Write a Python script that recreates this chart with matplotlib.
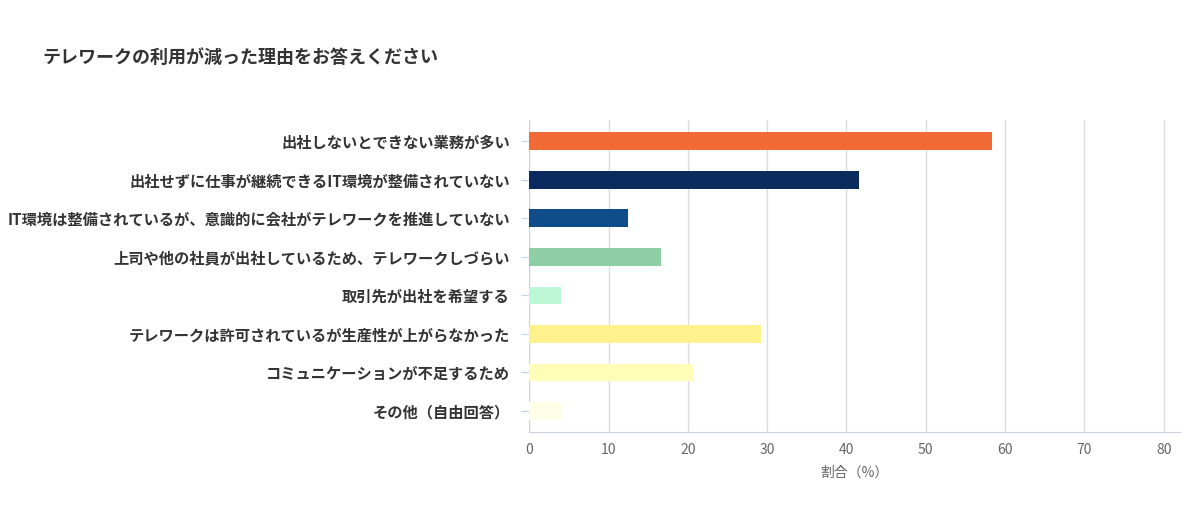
import matplotlib.pyplot as plt

plt.rcParams['font.family'] = 'Noto Sans CJK JP'

categories = [
    '出社しないとできない業務が多い',
    '出社せずに仕事が継続できるIT環境が整備されていない',
    'IT環境は整備されているが、意識的に会社がテレワークを推進していない',
    '上司や他の社員が出社しているため、テレワークしづらい',
    '取引先が出社を希望する',
    'テレワークは許可されているが生産性が上がらなかった',
    'コミュニケーションが不足するため',
    'その他（自由回答）',
]
values = [58.3, 41.6, 12.5, 16.6, 4.0, 29.2, 20.7, 4.0]
colors = ['#F26A36', '#0B2A5E', '#0F4C8A', '#8ECFA6', '#BDF7D6',
          '#FFF28C', '#FFFDB8', '#FFFEE6']
xticks = [0, 10, 20, 30, 40, 50, 60, 70, 80]

fig = plt.figure(figsize=(12, 5.29), dpi=100)
ax = fig.add_axes([0.441, 0.183, 0.542, 0.59])

y = list(range(len(categories)))
ax.barh(y, values, height=0.46, color=colors, zorder=3)
ax.set_yticks(y)
ax.set_yticklabels(categories, fontsize=11, fontweight='bold', color='#333333')
ax.invert_yaxis()
ax.set_ylim(len(categories) - 0.45, -0.55)
ax.set_xlim(0, 82)
ax.set_xticks(xticks)
ax.tick_params(axis='x', length=0, labelsize=10, labelcolor='#666666', pad=8)
ax.tick_params(axis='y', length=6, color='#C8D4E0', pad=8)
ax.grid(axis='x', color='#DDDDDD', linewidth=1, zorder=0)
for s in ['top', 'right']:
    ax.spines[s].set_visible(False)
ax.spines['bottom'].set_color('#C8D4E0')
ax.spines['left'].set_color('#C8D4E0')
ax.set_xlabel('割合（%）', fontsize=10, color='#666666', labelpad=6)

fig.text(0.035, 0.892, 'テレワークの利用が減った理由をお答えください',
         fontsize=13, fontweight='bold', color='#333333', va='center')

fig.savefig('out.png', dpi=100)
